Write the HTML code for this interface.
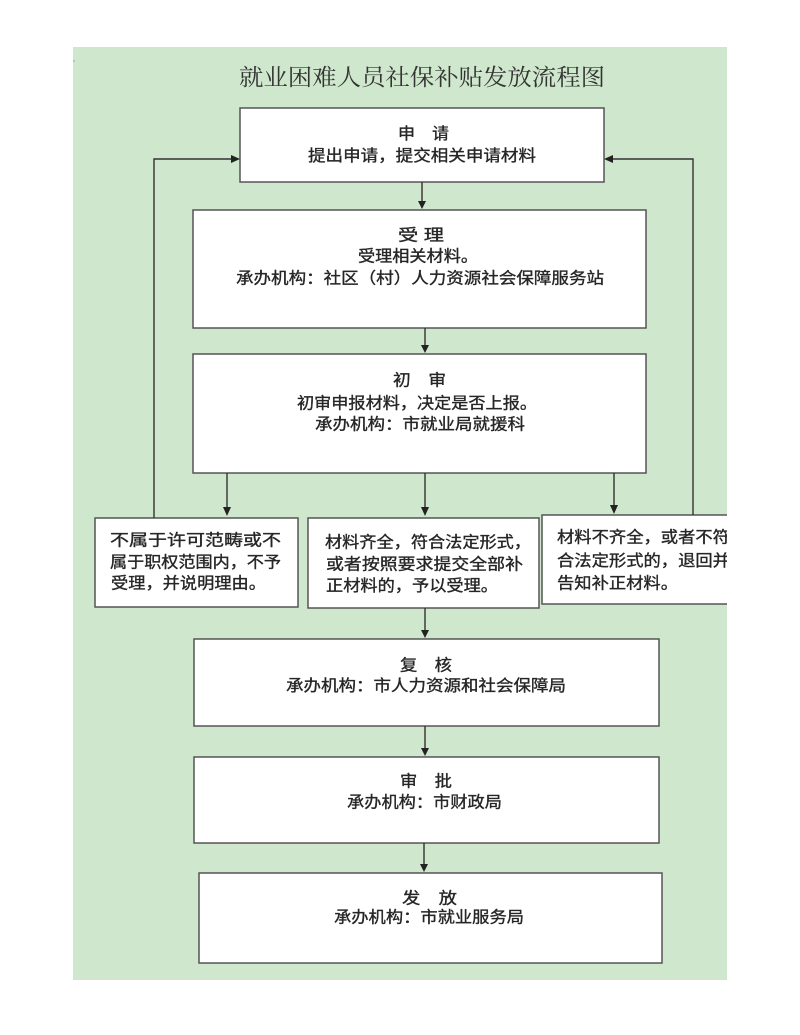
<!DOCTYPE html>
<html><head><meta charset="utf-8"><style>
html,body{margin:0;padding:0;background:#fff;}
svg{display:block;}
.t{font-family:"Liberation Sans","Noto Sans CJK SC",sans-serif;font-size:16px;fill:#262626;stroke:#262626;stroke-width:0.35;}
.ti{font-family:"Liberation Serif","Noto Serif CJK SC",serif;font-size:23px;fill:#333;}
.b{fill:#fff;stroke:#555;stroke-width:1.5;}
.l{stroke:#333;stroke-width:1.4;fill:none;}
.a{fill:#222;}
</style></head><body>
<svg width="800" height="1035" viewBox="0 0 800 1035" xmlns="http://www.w3.org/2000/svg">
<defs><clipPath id="g"><rect x="73" y="47" width="654" height="933"/></clipPath></defs>
<rect x="0" y="0" width="800" height="1035" fill="#fff"/>
<rect x="73" y="47" width="654" height="933" fill="#cfe7cc"/>

<text class="ti" x="239" y="85" textLength="366" lengthAdjust="spacingAndGlyphs">就业困难人员社保补贴发放流程图</text>

<!-- 申请 -->
<rect class="b" x="240" y="108" width="364" height="74"/>
<text class="t" x="398" y="139" textLength="51" lengthAdjust="spacingAndGlyphs">申　请</text>
<text class="t" x="308" y="161" textLength="228" lengthAdjust="spacingAndGlyphs">提出申请，提交相关申请材料</text>

<!-- 受理 -->
<rect class="b" x="193" y="210" width="453" height="118"/>
<text class="t" x="398" y="240.5" textLength="46" lengthAdjust="spacingAndGlyphs">受 理</text>
<text class="t" x="358" y="261.5" textLength="120" lengthAdjust="spacingAndGlyphs">受理相关材料。</text>
<text class="t" x="236" y="283.5" textLength="368" lengthAdjust="spacingAndGlyphs">承办机构：社区（村）人力资源社会保障服务站</text>

<!-- 初审 -->
<rect class="b" x="193" y="354" width="453" height="119"/>
<text class="t" x="393" y="385.5" textLength="53" lengthAdjust="spacingAndGlyphs">初　审</text>
<text class="t" x="297" y="408.5" textLength="240" lengthAdjust="spacingAndGlyphs">初审申报材料，决定是否上报。</text>
<text class="t" x="315" y="429.5" textLength="210" lengthAdjust="spacingAndGlyphs">承办机构：市就业局就援科</text>

<!-- bottom row boxes -->
<rect class="b" x="95" y="518" width="203" height="89"/>
<text class="t" x="110" y="545.5" textLength="171" lengthAdjust="spacingAndGlyphs">不属于许可范畴或不</text>
<text class="t" x="110" y="567.5" textLength="171" lengthAdjust="spacingAndGlyphs">属于职权范围内，不予</text>
<text class="t" x="111" y="588.5" textLength="155" lengthAdjust="spacingAndGlyphs">受理，并说明理由。</text>

<rect class="b" x="308" y="518" width="231" height="90"/>
<text class="t" x="325" y="547.5" textLength="206" lengthAdjust="spacingAndGlyphs">材料齐全，符合法定形式，</text>
<text class="t" x="326" y="569.5" textLength="197" lengthAdjust="spacingAndGlyphs">或者按照要求提交全部补</text>
<text class="t" x="326" y="591" textLength="172" lengthAdjust="spacingAndGlyphs">正材料的，予以受理。</text>

<g clip-path="url(#g)">
<rect class="b" x="542" y="515" width="230" height="89"/>
<text class="t" x="557" y="542.5" textLength="173" lengthAdjust="spacingAndGlyphs">材料不齐全，或者不符</text>
<text class="t" x="557" y="566" textLength="173" lengthAdjust="spacingAndGlyphs">合法定形式的，退回并</text>
<text class="t" x="557" y="588.5" textLength="121" lengthAdjust="spacingAndGlyphs">告知补正材料。</text>
</g>

<!-- 复核 -->
<rect class="b" x="194" y="639" width="465" height="87"/>
<text class="t" x="400" y="670.5" textLength="52" lengthAdjust="spacingAndGlyphs">复　核</text>
<text class="t" x="286" y="691" textLength="280" lengthAdjust="spacingAndGlyphs">承办机构：市人力资源和社会保障局</text>

<!-- 审批 -->
<rect class="b" x="194" y="757" width="465" height="86"/>
<text class="t" x="400" y="786.5" textLength="52" lengthAdjust="spacingAndGlyphs">审　批</text>
<text class="t" x="347" y="807.5" textLength="155" lengthAdjust="spacingAndGlyphs">承办机构：市财政局</text>

<!-- 发放 -->
<rect class="b" x="199" y="873" width="463" height="90"/>
<text class="t" x="402" y="903.5" textLength="55" lengthAdjust="spacingAndGlyphs">发　放</text>
<text class="t" x="334" y="922.5" textLength="190" lengthAdjust="spacingAndGlyphs">承办机构：市就业服务局</text>

<!-- connectors -->
<line class="l" x1="422" y1="182" x2="422" y2="202"/>
<polygon class="a" points="418,201 426,201 422,209"/>

<line class="l" x1="425" y1="328" x2="425" y2="346"/>
<polygon class="a" points="421,345 429,345 425,353"/>

<line class="l" x1="227" y1="473" x2="227" y2="509"/>
<polygon class="a" points="223,507 231,507 227,516"/>
<line class="l" x1="425" y1="473" x2="425" y2="509"/>
<polygon class="a" points="421,507 429,507 425,516"/>
<line class="l" x1="614" y1="473" x2="614" y2="506"/>
<polygon class="a" points="610,505 618,505 614,514"/>

<line class="l" x1="425" y1="608" x2="425" y2="631"/>
<polygon class="a" points="421,630 429,630 425,638"/>

<line class="l" x1="425" y1="726" x2="425" y2="749"/>
<polygon class="a" points="421,748 429,748 425,756"/>

<line class="l" x1="424" y1="843" x2="424" y2="865"/>
<polygon class="a" points="420,864 428,864 424,872"/>

<!-- feedback loops -->
<polyline class="l" points="154,518 154,159 232,159"/>
<polygon class="a" points="231,155 231,163 240,159"/>
<polyline class="l" points="693,515 693,159 612,159"/>
<polygon class="a" points="613,155 613,163 604,159"/>

<circle cx="74" cy="61" r="0.8" fill="#999"/>
</svg>
</body></html>
